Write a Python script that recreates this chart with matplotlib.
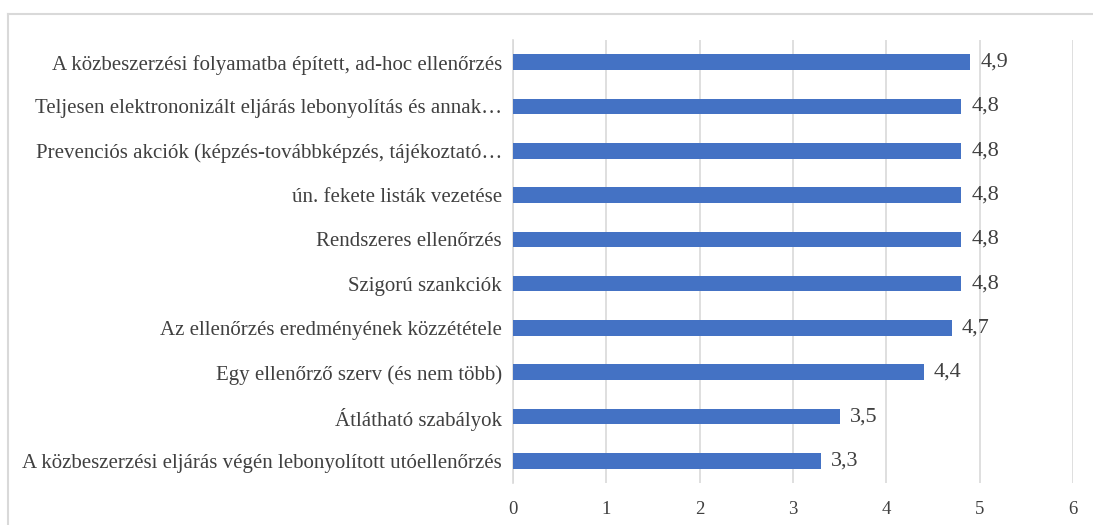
import matplotlib.pyplot as plt
from matplotlib.lines import Line2D

# === ADATOK ===
categories = [
    "A közbeszerzési folyamatba épített, ad-hoc ellenőrzés",
    "Teljesen elektrononizált eljárás lebonyolítás és annak…",
    "Prevenciós akciók (képzés-továbbképzés, tájékoztató…",
    "ún. fekete listák vezetése",
    "Rendszeres ellenőrzés",
    "Szigorú szankciók",
    "Az ellenőrzés eredményének közzététele",
    "Egy ellenőrző szerv (és nem több)",
    "Átlátható szabályok",
    "A közbeszerzési eljárás végén lebonyolított utóellenőrzés",
]
values = [4.9, 4.8, 4.8, 4.8, 4.8, 4.8, 4.7, 4.4, 3.5, 3.3]
value_labels = ["4,9", "4,8", "4,8", "4,8", "4,8", "4,8", "4,7", "4,4", "3,5", "3,3"]
xticks = [0, 1, 2, 3, 4, 5, 6]

plt.rcParams["font.family"] = ["Liberation Serif", "DejaVu Serif"]
TEXT = "#404040"

fig = plt.figure(figsize=(10.93, 5.25), dpi=100)
ax = fig.add_axes([0.4694, 0.080, 0.5123, 0.8438])

ypos = list(range(len(categories)))
ax.barh(ypos, values, height=0.35, color="#4472C4", zorder=3)

for y, v, lab in zip(ypos, values, value_labels):
    ax.text(v + 0.11, y, lab, va="center", ha="left", fontsize=16, color=TEXT)

ax.set_ylim(len(categories) - 0.5, -0.5)
ax.set_xlim(0, 6)
ax.set_xticks(xticks)
ax.set_xticklabels([str(t) for t in xticks])
ax.set_yticks(ypos)
ax.set_yticklabels(categories)

ax.grid(axis="x", color="#D9D9D9", linewidth=1.2, zorder=0)
for side in ["top", "right", "bottom"]:
    ax.spines[side].set_visible(False)
ax.spines["left"].set_color("#D9D9D9")
ax.spines["left"].set_linewidth(1.2)
ax.tick_params(axis="x", length=0, pad=13, labelsize=13.5, labelcolor=TEXT)
ax.tick_params(axis="y", length=0, pad=8, labelsize=15, labelcolor=TEXT)

# keret a diagram körül
fig.add_artist(Line2D([8 / 1093, 8 / 1093], [0, 1 - 14 / 525], color="#D9D9D9", linewidth=1.5))
fig.add_artist(Line2D([8 / 1093, 1], [1 - 14 / 525, 1 - 14 / 525], color="#D9D9D9", linewidth=1.5))

plt.savefig("out.png", dpi=100)
plt.close()
